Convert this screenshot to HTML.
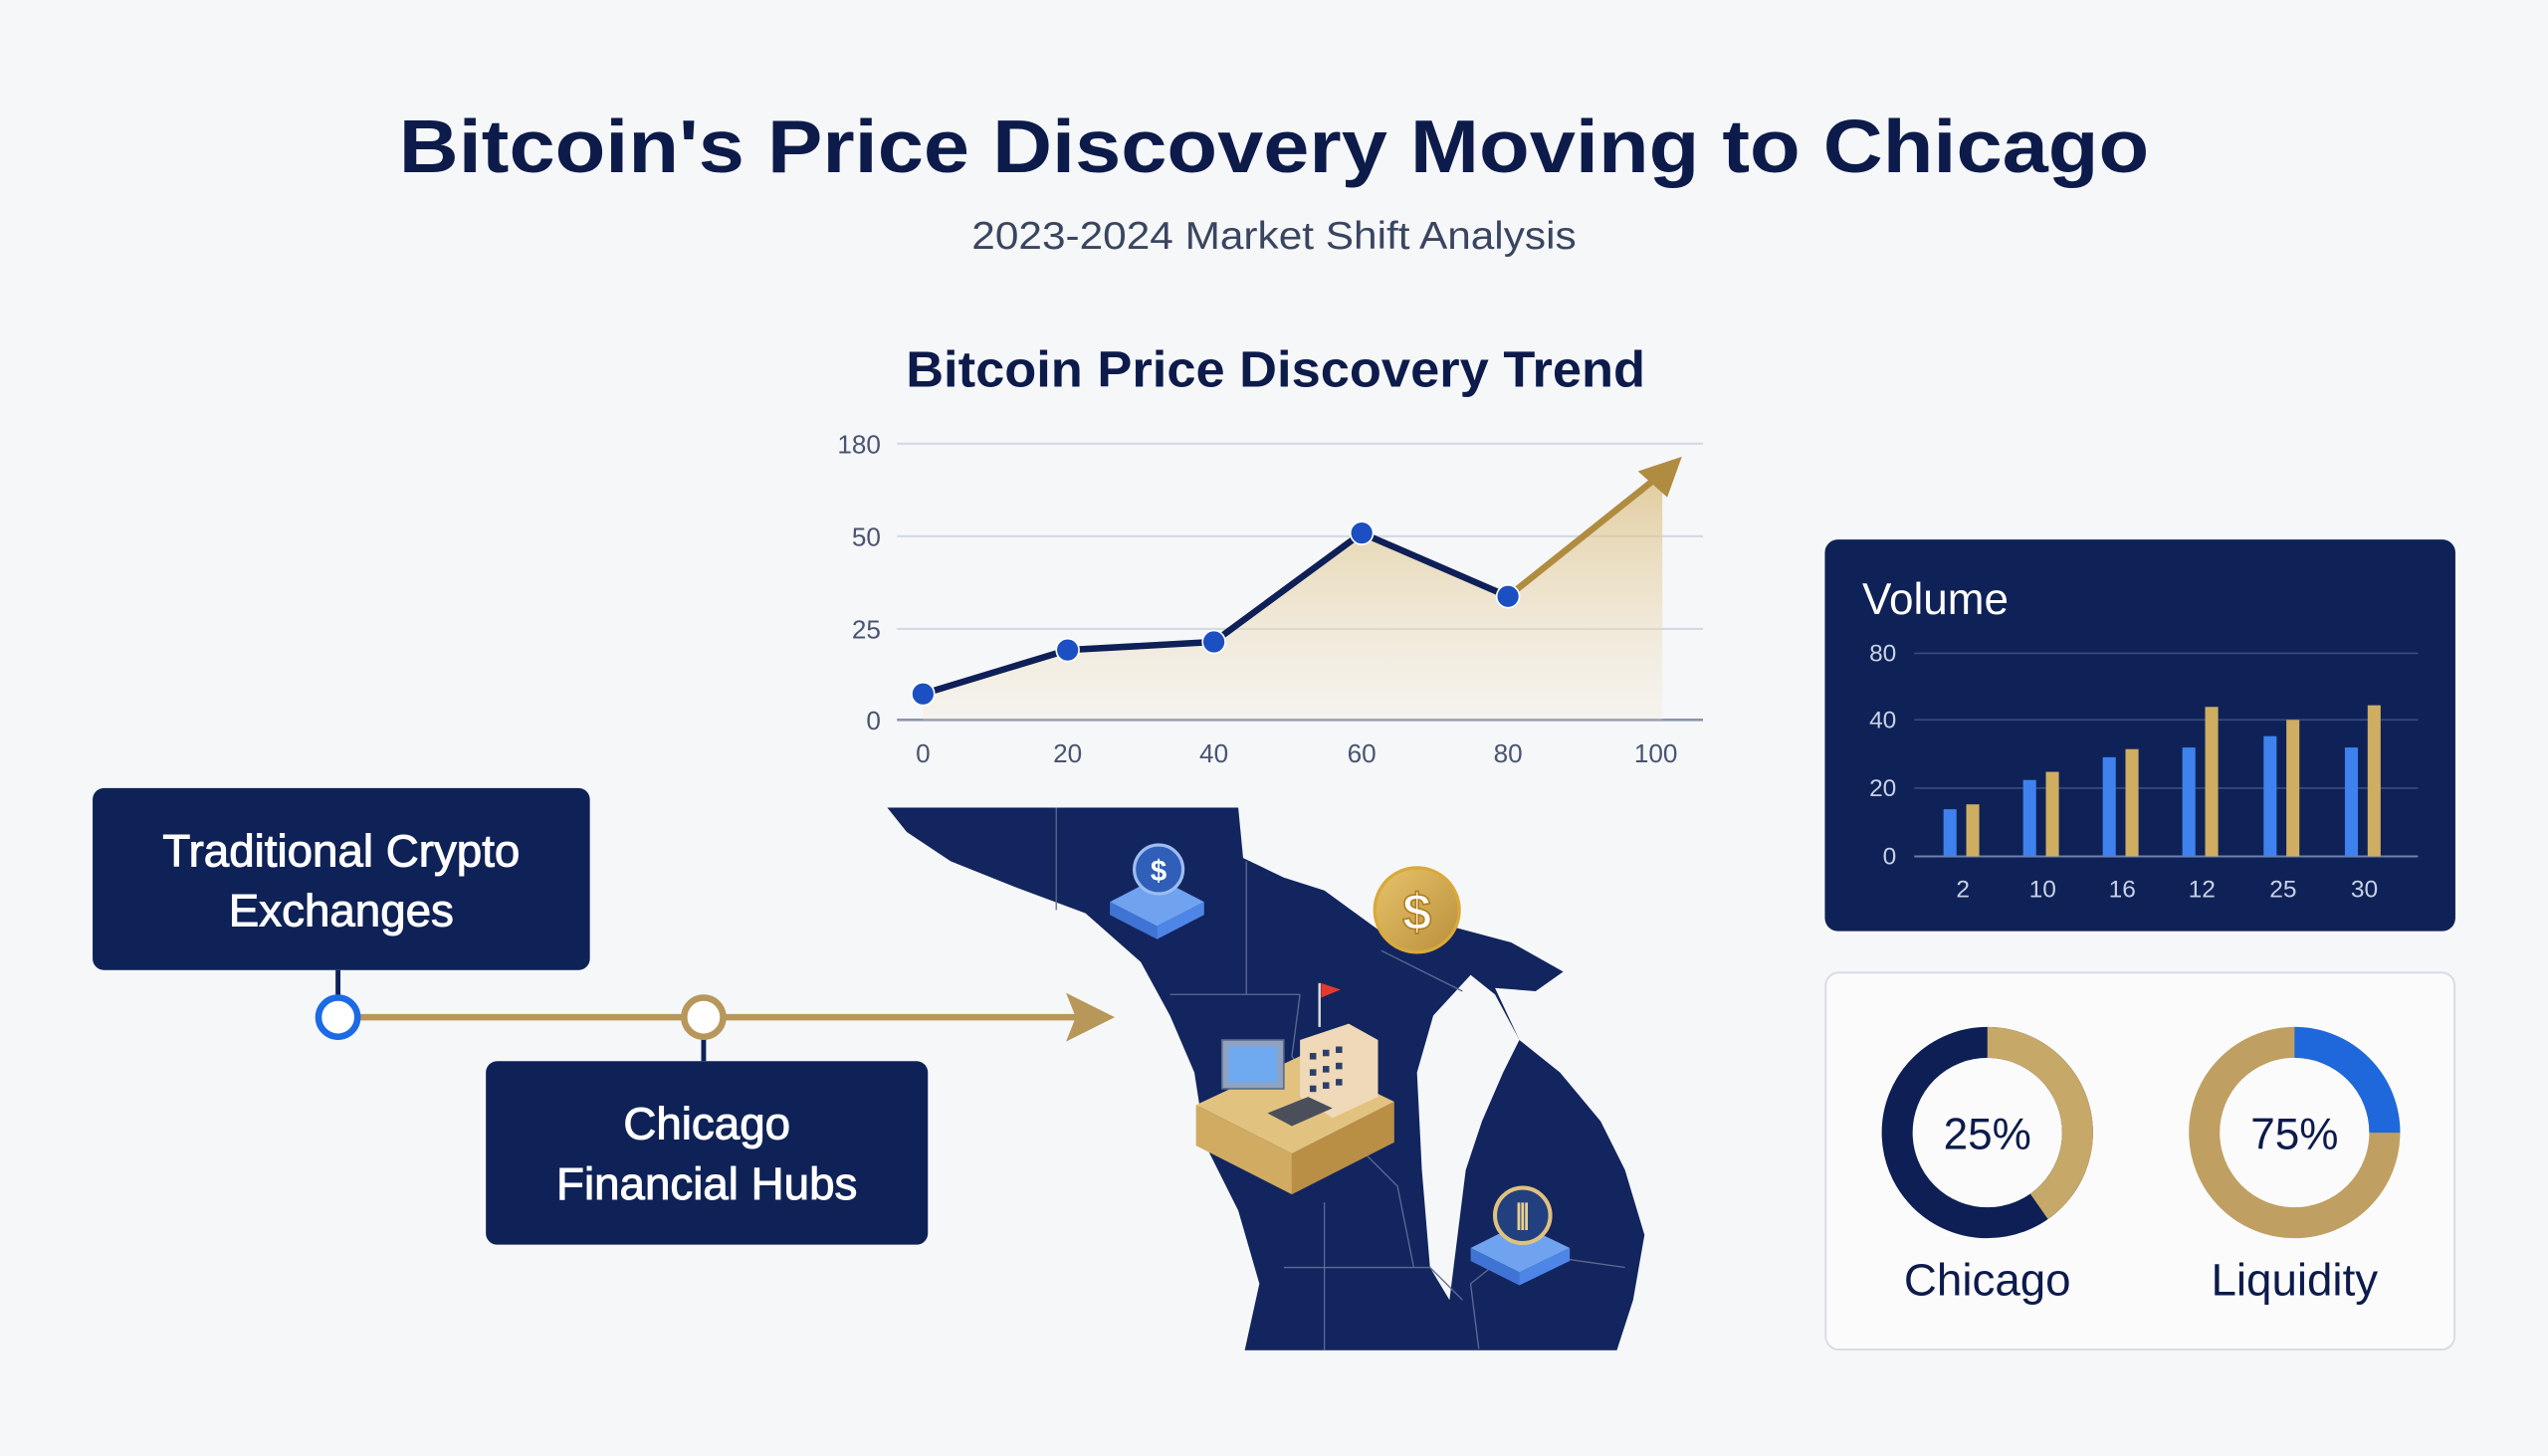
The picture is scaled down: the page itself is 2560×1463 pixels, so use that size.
<!DOCTYPE html>
<html><head><meta charset="utf-8"><style>
html,body{margin:0;padding:0;background:#f6f7f9;}
svg{display:block;}
text{font-family:"Liberation Sans",sans-serif;}
</style></head><body>
<svg width="2560" height="1463" viewBox="0 0 1568 896" xmlns="http://www.w3.org/2000/svg">
<defs>
<linearGradient id="fill" x1="0" y1="0" x2="0" y2="1">
<stop offset="0" stop-color="#d9bd7d" stop-opacity="0.75"/>
<stop offset="1" stop-color="#f3ead5" stop-opacity="0.3"/>
</linearGradient>
<linearGradient id="gold" x1="0" y1="0" x2="1" y2="1">
<stop offset="0" stop-color="#e8c46a"/><stop offset="1" stop-color="#b98e3c"/>
</linearGradient>
</defs>
<rect width="1568" height="896" fill="#f6f7f9"/>

<text x="784" y="106" text-anchor="middle" font-size="46" font-weight="bold" fill="#0d1b4b" textLength="1077" lengthAdjust="spacingAndGlyphs">Bitcoin's Price Discovery Moving to Chicago</text>
<text x="784" y="153" text-anchor="middle" font-size="24" fill="#3a4560" textLength="372" lengthAdjust="spacingAndGlyphs">2023-2024 Market Shift Analysis</text>

<!-- line chart -->
<text x="785" y="238" text-anchor="middle" font-size="31" font-weight="bold" fill="#0d1b4b" textLength="455" lengthAdjust="spacingAndGlyphs">Bitcoin Price Discovery Trend</text>
<g stroke="#d3d8e4" stroke-width="1.3">
<line x1="552" y1="273" x2="1048" y2="273"/>
<line x1="552" y1="330" x2="1048" y2="330"/>
<line x1="552" y1="387" x2="1048" y2="387"/>
</g>
<line x1="552" y1="443" x2="1048" y2="443" stroke="#8d95aa" stroke-width="1.6"/>
<g font-size="16" fill="#4a5470" text-anchor="end">
<text x="542" y="279">180</text><text x="542" y="336">50</text><text x="542" y="393">25</text><text x="542" y="449">0</text>
</g>
<g font-size="16" fill="#4a5470" text-anchor="middle">
<text x="568" y="469">0</text><text x="657" y="469">20</text><text x="747" y="469">40</text><text x="838" y="469">60</text><text x="928" y="469">80</text><text x="1019" y="469">100</text>
</g>
<polygon points="568,427 657,400 747,395 838,328 928,367 1023,292 1023,443 568,443" fill="url(#fill)"/>
<polyline points="568,427 657,400 747,395 838,328 928,367" fill="none" stroke="#0f1f57" stroke-width="4" stroke-linejoin="round"/>
<line x1="928" y1="367" x2="1022" y2="292" stroke="#b08c40" stroke-width="4"/>
<polygon points="1035,281 1008,290 1026,306" fill="#b08c40"/>
<g fill="#1b4fc2" stroke="#fff" stroke-width="1">
<circle cx="568" cy="427" r="7"/><circle cx="657" cy="400" r="7"/><circle cx="747" cy="395" r="7"/><circle cx="838" cy="328" r="7"/><circle cx="928" cy="367" r="7"/>
</g>

<!-- left boxes & timeline -->
<rect x="57" y="485" width="306" height="112" rx="7" fill="#0f2257"/>
<g font-size="28" fill="#fff" stroke="#fff" stroke-width="0.6" text-anchor="middle">
<text x="210" y="533">Traditional Crypto</text>
<text x="210" y="570">Exchanges</text>
</g>
<rect x="299" y="653" width="272" height="113" rx="7" fill="#0f2257"/>
<g font-size="28" fill="#fff" stroke="#fff" stroke-width="0.6" text-anchor="middle">
<text x="435" y="701">Chicago</text>
<text x="435" y="738">Financial Hubs</text>
</g>
<line x1="208" y1="597" x2="208" y2="614" stroke="#0f2257" stroke-width="3"/>
<line x1="433" y1="638" x2="433" y2="653" stroke="#0f2257" stroke-width="3"/>
<line x1="220" y1="626" x2="665" y2="626" stroke="#b8975a" stroke-width="4"/>
<polygon points="686,626 656,611 662,626 656,641" fill="#b8975a"/>
<circle cx="208" cy="626" r="12" fill="#fff" stroke="#1c6ae6" stroke-width="4"/>
<circle cx="433" cy="626" r="12" fill="#fff" stroke="#b8975a" stroke-width="4"/>

<!-- map -->
<polygon points="546,497 762,497 765,528 790,540 815,548 848,572 885,568 930,580 962,598 945,610 920,608 935,640 960,660 985,690 1000,720 1012,760 1005,800 995,831 766,831 775,790 762,745 742,705 735,660 720,625 702,592 668,562 625,546 585,530 558,512" fill="#13255e"/>
<polygon points="905,600 882,625 872,660 875,720 880,780 892,800 897,760 902,720 912,690 925,660 935,640 920,612" fill="#f6f7f9"/>
<polygon points="975,665 990,640 995,655 985,680" fill="#f6f7f9"/>
<g stroke="#5c6b94" stroke-width="0.8" fill="none">
<line x1="650" y1="497" x2="650" y2="560"/>
<line x1="767" y1="530" x2="767" y2="612"/>
<line x1="720" y1="612" x2="800" y2="612"/>
<polyline points="800,612 795,650 830,700 860,730 870,780"/>
<polyline points="790,780 880,780 900,800"/>
<polyline points="815,740 815,831"/>
<polyline points="910,830 905,790 930,770 1000,780"/>
<polyline points="850,585 900,610"/>
</g>
<!-- icons -->
<polygon points="683,555 712,540 741,555 712,570" fill="#6fa2ef"/>
<polygon points="683,555 712,570 712,578 683,563" fill="#3f74d4"/>
<polygon points="741,555 712,570 712,578 741,563" fill="#4d86e6"/>
<circle cx="713" cy="535" r="15" fill="#2f5fb8" stroke="#9ebcf0" stroke-width="2"/>
<text x="713" y="542" text-anchor="middle" font-size="18" font-weight="bold" fill="#fff">$</text>
<circle cx="872" cy="560" r="26" fill="url(#gold)" stroke="#d9a93a" stroke-width="2"/>
<text x="872" y="572" text-anchor="middle" font-size="32" font-weight="bold" fill="#fff" stroke="#b07d1c" stroke-width="1">$</text>
<polygon points="736,680 800,650 858,678 795,710" fill="#e2c27f"/>
<polygon points="736,680 795,710 795,735 736,705" fill="#d1ab62"/>
<polygon points="858,678 795,710 795,735 858,703" fill="#b98f46"/>
<rect x="752" y="640" width="38" height="30" fill="#8fa2c2" stroke="#5a6a88"/>
<rect x="756" y="644" width="30" height="22" fill="#6fa9f0"/>
<polygon points="800,640 830,630 848,640 848,675 820,688 800,675" fill="#efd9b8"/>
<g fill="#2c3f6a"><rect x="806" y="648" width="4" height="4"/><rect x="814" y="646" width="4" height="4"/><rect x="822" y="644" width="4" height="4"/><rect x="806" y="658" width="4" height="4"/><rect x="814" y="656" width="4" height="4"/><rect x="822" y="654" width="4" height="4"/><rect x="806" y="668" width="4" height="4"/><rect x="814" y="666" width="4" height="4"/><rect x="822" y="664" width="4" height="4"/></g>
<line x1="812" y1="605" x2="812" y2="632" stroke="#ddd" stroke-width="1.5"/>
<polygon points="813,605 825,609 813,614" fill="#e23a2e"/>
<polygon points="780,685 805,675 820,682 795,693" fill="#4a4f5a"/>
<polygon points="905,768 935,753 966,768 935,783" fill="#6fa2ef"/>
<polygon points="905,768 935,783 935,791 905,776" fill="#3f74d4"/>
<polygon points="966,768 935,783 935,791 966,776" fill="#4d86e6"/>
<circle cx="937" cy="748" r="17" fill="#22407f" stroke="#e0c27e" stroke-width="2.5"/>
<text x="937" y="755" text-anchor="middle" font-size="18" font-weight="bold" fill="#e8cf92">⫼</text>

<!-- Volume panel -->
<rect x="1123" y="332" width="388" height="241" rx="8" fill="#0f2257"/>
<text x="1146" y="378" font-size="27" fill="#fff">Volume</text>
<g stroke="#3a4d80" stroke-width="1">
<line x1="1178" y1="402" x2="1488" y2="402"/><line x1="1178" y1="443" x2="1488" y2="443"/><line x1="1178" y1="485" x2="1488" y2="485"/>
</g>
<line x1="1178" y1="527" x2="1488" y2="527" stroke="#6f80aa" stroke-width="1.2"/>
<g font-size="15" fill="#c9d1e6" text-anchor="end">
<text x="1167" y="407">80</text><text x="1167" y="448">40</text><text x="1167" y="490">20</text><text x="1167" y="532">0</text>
</g>
<g font-size="15" fill="#c9d1e6" text-anchor="middle">
<text x="1208" y="552">2</text><text x="1257" y="552">10</text><text x="1306" y="552">16</text><text x="1355" y="552">12</text><text x="1405" y="552">25</text><text x="1455" y="552">30</text>
</g>
<g fill="#3f82ee">
<rect x="1196" y="498" width="8" height="29"/><rect x="1245" y="480" width="8" height="47"/><rect x="1294" y="466" width="8" height="61"/><rect x="1343" y="460" width="8" height="67"/><rect x="1393" y="453" width="8" height="74"/><rect x="1443" y="460" width="8" height="67"/>
</g>
<g fill="#cfae62">
<rect x="1210" y="495" width="8" height="32"/><rect x="1259" y="475" width="8" height="52"/><rect x="1308" y="461" width="8" height="66"/><rect x="1357" y="435" width="8" height="92"/><rect x="1407" y="443" width="8" height="84"/><rect x="1457" y="434" width="8" height="93"/>
</g>

<!-- donut panel -->
<rect x="1123.5" y="598.5" width="387" height="232" rx="8" fill="#fbfbfc" stroke="#d8dce5" stroke-width="1.2"/>
<g transform="translate(1223,697)">
<circle r="55.5" fill="none" stroke="#0d1f55" stroke-width="19"/>
<circle r="55.5" fill="none" stroke="#c6a868" stroke-width="19" stroke-dasharray="140.4 400" transform="rotate(-90)"/>
<text y="10" text-anchor="middle" font-size="27" fill="#0d1b4b">25%</text>
</g>
<g transform="translate(1412,697)">
<circle r="55.5" fill="none" stroke="#c0a062" stroke-width="19"/>
<circle r="55.5" fill="none" stroke="#1e68dc" stroke-width="19" stroke-dasharray="87.2 400" transform="rotate(-90)"/>
<text y="10" text-anchor="middle" font-size="27" fill="#0d1b4b">75%</text>
</g>
<text x="1223" y="797" text-anchor="middle" font-size="28" fill="#0d1b4b">Chicago</text>
<text x="1412" y="797" text-anchor="middle" font-size="28" fill="#0d1b4b">Liquidity</text>
</svg>
</body></html>
